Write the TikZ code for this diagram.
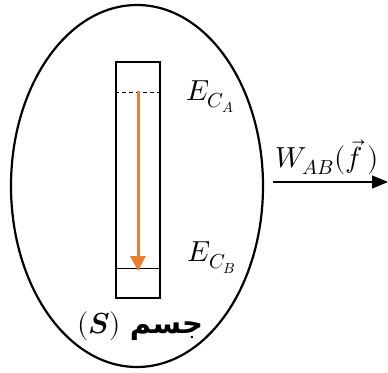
\documentclass[tikz,border=0pt]{standalone}
\usepackage{fontspec}
\usepackage{unicode-math}
\setmathfont{Latin Modern Math}
\usetikzlibrary{positioning,arrows.meta,shapes.geometric}
\TeXXeTstate=1
\newfontfamily\arabicfont[Script=Arabic]{DejaVu Sans}
\definecolor{fallorange}{HTML}{ED7D31}
\definecolor{inkblack}{HTML}{000000}
\tikzset{
  outline/.style ={draw=inkblack, line width=2.2pt},
  level/.style   ={draw=inkblack, line width=1pt},
  fallflow/.style={-{Triangle[length=15pt,width=15pt]}, draw=fallorange,
                   line width=3pt},
  workflow/.style={-{Triangle[length=16pt,width=13pt]}, draw=inkblack,
                   line width=1.3pt},
  lbl/.style     ={font=\fontsize{29pt}{31pt}\selectfont, inner sep=0pt},
}

\begin{document}
\begin{tikzpicture}[x=1pt, y=-1pt]
\useasboundingbox (0,0) rectangle (388,372);

% ---------------------------------------------------------------- the system
\node[outline, ellipse, minimum width=252pt, minimum height=362pt] (body)
  at (137,186) {};

% ---------------------------------------------------------------- the column
\node[outline, rectangle, minimum width=44pt, minimum height=236pt, inner sep=0pt]
  (tube) at (138,180) {};
\coordinate (lvlA) at (138,92);
\coordinate (lvlB) at (138,268);
\draw[level, dash pattern=on 4pt off 3pt] (tube.west |- lvlA) -- (tube.east |- lvlA);
\draw[level] (tube.west |- lvlB) -- (tube.east |- lvlB);
\draw[fallflow] ([yshift=1pt]lvlA) -- ([yshift=-3pt]lvlB);

% ---------------------------------------------------------------- energies
\node[lbl] (ecA) at (210,97) {$E_{C_A}$};
\node[lbl] (ecB) at (212,258) {$E_{C_B}$};

% ---------------------------------------------------------------- work out
\coordinate (wstart) at (273,182);
\coordinate (wend) at (388,182);
\draw[workflow] (wstart) -- (wend);
\node[lbl, anchor=south west] (work) at (275,175)
  {$W_{AB}(\vec{f}\,)$};

% ---------------------------------------------------------------- name
\node[lbl] (name) at (140,326)
  {$(\symbfit{S})$\ {\arabicfont\bfseries\beginR جسم\endR}};

\end{tikzpicture}
\end{document}
